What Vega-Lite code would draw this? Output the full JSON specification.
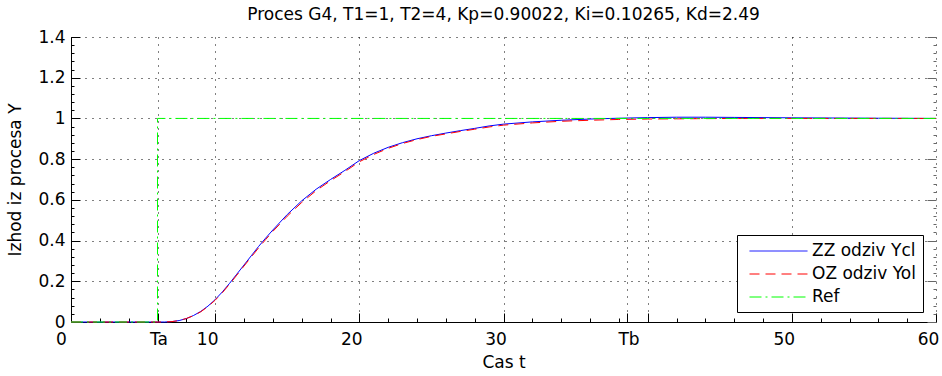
{
  "$schema": "https://vega.github.io/schema/vega-lite/v6.json",
  "width": 865,
  "height": 285,
  "autosize": {"type": "none"},
  "padding": {"left": 71, "top": 37, "right": 6, "bottom": 54},
  "background": "white",
  "config": {
    "font": "DejaVu Sans",
    "view": {"stroke": null},
    "axis": {
      "labelFont": "DejaVu Sans",
      "labelFontSize": 17,
      "labelColor": "black",
      "titleFont": "DejaVu Sans",
      "titleFontSize": 17,
      "titleFontWeight": "normal",
      "titleColor": "black",
      "domainColor": "black",
      "domainWidth": 1,
      "tickColor": "black",
      "tickWidth": 1,
      "gridColor": "black",
      "gridDash": [1, 6],
      "gridWidth": 1,
      "labelOverlap": false,
      "labelFlush": false
    }
  },
  "title": {
    "text": "Proces G4, T1=1, T2=4, Kp=0.90022, Ki=0.10265, Kd=2.49",
    "font": "DejaVu Sans",
    "fontSize": 17,
    "fontWeight": "normal",
    "color": "black",
    "anchor": "middle",
    "offset": 4
  },
  "datasets": {
    "curves": [
      {"t": 0, "y": 0, "s": "ZZ odziv Ycl"},
      {"t": 6.5, "y": 0, "s": "ZZ odziv Ycl"},
      {"t": 7, "y": 0.002, "s": "ZZ odziv Ycl"},
      {"t": 7.5, "y": 0.007, "s": "ZZ odziv Ycl"},
      {"t": 8, "y": 0.017, "s": "ZZ odziv Ycl"},
      {"t": 8.5, "y": 0.032, "s": "ZZ odziv Ycl"},
      {"t": 9, "y": 0.052, "s": "ZZ odziv Ycl"},
      {"t": 9.5, "y": 0.078, "s": "ZZ odziv Ycl"},
      {"t": 10, "y": 0.11, "s": "ZZ odziv Ycl"},
      {"t": 10.5, "y": 0.148, "s": "ZZ odziv Ycl"},
      {"t": 11, "y": 0.19, "s": "ZZ odziv Ycl"},
      {"t": 11.5, "y": 0.235, "s": "ZZ odziv Ycl"},
      {"t": 12, "y": 0.28, "s": "ZZ odziv Ycl"},
      {"t": 12.5, "y": 0.325, "s": "ZZ odziv Ycl"},
      {"t": 13, "y": 0.37, "s": "ZZ odziv Ycl"},
      {"t": 13.5, "y": 0.412, "s": "ZZ odziv Ycl"},
      {"t": 14, "y": 0.452, "s": "ZZ odziv Ycl"},
      {"t": 15, "y": 0.528, "s": "ZZ odziv Ycl"},
      {"t": 16, "y": 0.595, "s": "ZZ odziv Ycl"},
      {"t": 17, "y": 0.652, "s": "ZZ odziv Ycl"},
      {"t": 18, "y": 0.7, "s": "ZZ odziv Ycl"},
      {"t": 19, "y": 0.745, "s": "ZZ odziv Ycl"},
      {"t": 20, "y": 0.793, "s": "ZZ odziv Ycl"},
      {"t": 21, "y": 0.829, "s": "ZZ odziv Ycl"},
      {"t": 22, "y": 0.858, "s": "ZZ odziv Ycl"},
      {"t": 23, "y": 0.881, "s": "ZZ odziv Ycl"},
      {"t": 24, "y": 0.9, "s": "ZZ odziv Ycl"},
      {"t": 25, "y": 0.915, "s": "ZZ odziv Ycl"},
      {"t": 26, "y": 0.928, "s": "ZZ odziv Ycl"},
      {"t": 27, "y": 0.94, "s": "ZZ odziv Ycl"},
      {"t": 28, "y": 0.951, "s": "ZZ odziv Ycl"},
      {"t": 29, "y": 0.963, "s": "ZZ odziv Ycl"},
      {"t": 30, "y": 0.972, "s": "ZZ odziv Ycl"},
      {"t": 32, "y": 0.983, "s": "ZZ odziv Ycl"},
      {"t": 34, "y": 0.991, "s": "ZZ odziv Ycl"},
      {"t": 36, "y": 0.997, "s": "ZZ odziv Ycl"},
      {"t": 38, "y": 1.001, "s": "ZZ odziv Ycl"},
      {"t": 40, "y": 1.004, "s": "ZZ odziv Ycl"},
      {"t": 42, "y": 1.006, "s": "ZZ odziv Ycl"},
      {"t": 44, "y": 1.006, "s": "ZZ odziv Ycl"},
      {"t": 46, "y": 1.005, "s": "ZZ odziv Ycl"},
      {"t": 48, "y": 1.004, "s": "ZZ odziv Ycl"},
      {"t": 50, "y": 1.003, "s": "ZZ odziv Ycl"},
      {"t": 53, "y": 1.002, "s": "ZZ odziv Ycl"},
      {"t": 56, "y": 1.001, "s": "ZZ odziv Ycl"},
      {"t": 60, "y": 1.0, "s": "ZZ odziv Ycl"},

      {"t": 0, "y": 0, "s": "OZ odziv Yol"},
      {"t": 6.5, "y": 0, "s": "OZ odziv Yol"},
      {"t": 7, "y": 0.002, "s": "OZ odziv Yol"},
      {"t": 7.5, "y": 0.007, "s": "OZ odziv Yol"},
      {"t": 8, "y": 0.017, "s": "OZ odziv Yol"},
      {"t": 8.5, "y": 0.031, "s": "OZ odziv Yol"},
      {"t": 9, "y": 0.05, "s": "OZ odziv Yol"},
      {"t": 9.5, "y": 0.076, "s": "OZ odziv Yol"},
      {"t": 10, "y": 0.107, "s": "OZ odziv Yol"},
      {"t": 10.5, "y": 0.144, "s": "OZ odziv Yol"},
      {"t": 11, "y": 0.186, "s": "OZ odziv Yol"},
      {"t": 11.5, "y": 0.23, "s": "OZ odziv Yol"},
      {"t": 12, "y": 0.275, "s": "OZ odziv Yol"},
      {"t": 12.5, "y": 0.319, "s": "OZ odziv Yol"},
      {"t": 13, "y": 0.363, "s": "OZ odziv Yol"},
      {"t": 13.5, "y": 0.405, "s": "OZ odziv Yol"},
      {"t": 14, "y": 0.445, "s": "OZ odziv Yol"},
      {"t": 15, "y": 0.52, "s": "OZ odziv Yol"},
      {"t": 16, "y": 0.587, "s": "OZ odziv Yol"},
      {"t": 17, "y": 0.645, "s": "OZ odziv Yol"},
      {"t": 18, "y": 0.694, "s": "OZ odziv Yol"},
      {"t": 19, "y": 0.739, "s": "OZ odziv Yol"},
      {"t": 20, "y": 0.787, "s": "OZ odziv Yol"},
      {"t": 21, "y": 0.823, "s": "OZ odziv Yol"},
      {"t": 22, "y": 0.853, "s": "OZ odziv Yol"},
      {"t": 23, "y": 0.877, "s": "OZ odziv Yol"},
      {"t": 24, "y": 0.896, "s": "OZ odziv Yol"},
      {"t": 25, "y": 0.912, "s": "OZ odziv Yol"},
      {"t": 26, "y": 0.924, "s": "OZ odziv Yol"},
      {"t": 27, "y": 0.936, "s": "OZ odziv Yol"},
      {"t": 28, "y": 0.947, "s": "OZ odziv Yol"},
      {"t": 29, "y": 0.958, "s": "OZ odziv Yol"},
      {"t": 30, "y": 0.967, "s": "OZ odziv Yol"},
      {"t": 32, "y": 0.978, "s": "OZ odziv Yol"},
      {"t": 34, "y": 0.986, "s": "OZ odziv Yol"},
      {"t": 36, "y": 0.991, "s": "OZ odziv Yol"},
      {"t": 38, "y": 0.995, "s": "OZ odziv Yol"},
      {"t": 40, "y": 0.997, "s": "OZ odziv Yol"},
      {"t": 42, "y": 0.998, "s": "OZ odziv Yol"},
      {"t": 44, "y": 0.999, "s": "OZ odziv Yol"},
      {"t": 46, "y": 1.0, "s": "OZ odziv Yol"},
      {"t": 50, "y": 1.0, "s": "OZ odziv Yol"},
      {"t": 55, "y": 1.0, "s": "OZ odziv Yol"},
      {"t": 60, "y": 1.0, "s": "OZ odziv Yol"},

      {"t": 0, "y": 0, "s": "Ref"},
      {"t": 6, "y": 0, "s": "Ref"},
      {"t": 6, "y": 1, "s": "Ref"},
      {"t": 60, "y": 1, "s": "Ref"}
    ]
  },
  "data": {"name": "curves"},
  "encoding": {
    "x": {
      "field": "t",
      "type": "quantitative",
      "scale": {"domain": [0, 60], "nice": false, "zero": false},
      "axis": {
        "title": "Cas t",
        "titlePadding": 2,
        "values": [0, 2, 4, 6, 8, 10, 12, 14, 16, 18, 20, 22, 24, 26, 28, 30, 32, 34, 36, 38, 38.6, 40, 42, 44, 46, 48, 50, 52, 54, 56, 58, 60],
        "labelExpr": "datum.value == 6 ? 'Ta' : (datum.value > 38.5 && datum.value < 38.7) ? 'Tb' : (datum.value % 10 == 0 && datum.value != 40) ? datum.label : ''",
        "labelPadding": 18,
        "labelOffset": {
          "condition": [
            {"test": "datum.value == 0", "value": -10},
            {"test": "datum.value == 6 || (datum.value > 38.5 && datum.value < 38.7)", "value": 1}
          ],
          "value": -8
        },
        "tickSize": {
          "condition": {"test": "datum.value % 10 == 0 || datum.value == 6 || (datum.value > 38.5 && datum.value < 38.7)", "value": -9},
          "value": -4
        },
        "gridOpacity": {
          "condition": {"test": "datum.value % 10 == 0 || datum.value == 6 || (datum.value > 38.5 && datum.value < 38.7)", "value": 1},
          "value": 0
        }
      }
    },
    "color": {
      "field": "s",
      "type": "nominal",
      "scale": {"domain": ["ZZ odziv Ycl", "OZ odziv Yol", "Ref"], "range": ["#0000ff", "#ff0000", "#00ff00"]},
      "legend": {
        "title": null,
        "orient": "none",
        "legendX": 666,
        "legendY": 198,
        "symbolType": "M-0.41,0H6.41",
        "symbolSize": 289,
        "symbolStrokeWidth": 1,
        "symbolOffset": 0,
        "labelOffset": 50,
        "labelFont": "DejaVu Sans",
        "labelFontSize": 17,
        "labelColor": "black",
        "rowPadding": 6,
        "padding": 7,
        "strokeColor": "black",
        "fillColor": "white",
        "encode": {
          "symbols": {
            "update": {
              "strokeDash": {"signal": "datum.value == 'OZ odziv Yol' ? [10, 6] : datum.value == 'Ref' ? [12, 4, 2, 4] : [1, 0]"}
            }
          }
        }
      }
    },
    "order": {"value": null}
  },
  "layer": [
    {
      "transform": [{"filter": "datum.s == 'ZZ odziv Ycl'"}],
      "mark": {"type": "line", "strokeWidth": 1},
      "encoding": {
        "y": {
          "field": "y",
          "type": "quantitative",
          "scale": {"domain": [0, 1.4], "nice": false, "zero": false},
          "axis": {
            "title": "Izhod iz procesa Y",
            "titlePadding": 13,
            "values": [0, 0.04, 0.08, 0.12, 0.16, 0.2, 0.24, 0.28, 0.32, 0.36, 0.4, 0.44, 0.48, 0.52, 0.56, 0.6, 0.64, 0.68, 0.72, 0.76, 0.8, 0.84, 0.88, 0.92, 0.96, 1, 1.04, 1.08, 1.12, 1.16, 1.2, 1.24, 1.28, 1.32, 1.36, 1.4],
            "labelExpr": "abs(datum.value * 5 - round(datum.value * 5)) < 0.001 ? format(datum.value, '.1~f') : ''",
            "labelPadding": 15,
            "tickSize": {
              "condition": {"test": "abs(datum.value * 5 - round(datum.value * 5)) < 0.001", "value": -9},
              "value": -3
            },
            "gridOpacity": {
              "condition": {"test": "abs(datum.value * 5 - round(datum.value * 5)) < 0.001", "value": 1},
              "value": 0
            }
          }
        }
      }
    },
    {
      "transform": [{"filter": "datum.s == 'OZ odziv Yol'"}],
      "mark": {"type": "line", "strokeWidth": 1, "strokeDash": [10, 6]},
      "encoding": {
        "y": {"field": "y", "type": "quantitative", "scale": {"domain": [0, 1.4], "nice": false, "zero": false}, "axis": null}
      }
    },
    {
      "transform": [{"filter": "datum.s == 'Ref'"}],
      "mark": {"type": "line", "strokeWidth": 1, "strokeDash": [12, 4, 2, 4]},
      "encoding": {
        "y": {
          "field": "y",
          "type": "quantitative",
          "scale": {"domain": [0, 1.4], "nice": false, "zero": false},
          "axis": {
            "orient": "right",
            "title": null,
            "labels": false,
            "domain": false,
            "grid": false,
            "values": [0, 0.04, 0.08, 0.12, 0.16, 0.2, 0.24, 0.28, 0.32, 0.36, 0.4, 0.44, 0.48, 0.52, 0.56, 0.6, 0.64, 0.68, 0.72, 0.76, 0.8, 0.84, 0.88, 0.92, 0.96, 1, 1.04, 1.08, 1.12, 1.16, 1.2, 1.24, 1.28, 1.32, 1.36, 1.4],
            "tickColor": "#666666",
            "tickSize": {
              "condition": {"test": "abs(datum.value * 5 - round(datum.value * 5)) < 0.001", "value": -9},
              "value": -3
            }
          }
        }
      }
    }
  ],
  "resolve": {"scale": {"y": "independent"}, "axis": {"y": "independent"}}
}
